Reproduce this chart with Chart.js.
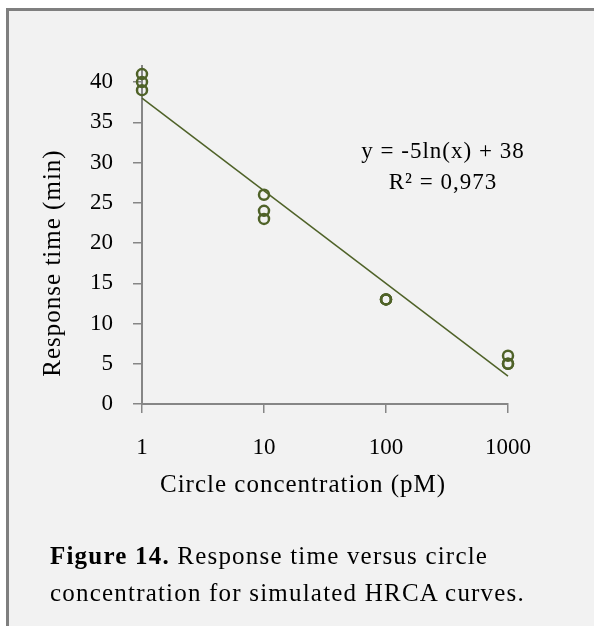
<!DOCTYPE html>
<html>
<head>
<meta charset="utf-8">
<script src="https://cdn.jsdelivr.net/npm/chart.js@4.4.1/dist/chart.umd.min.js"></script>
<style>
    html, body { margin: 0; padding: 0; background: #fff; }
    .figure-box {
        position: absolute; left: 6px; top: 8px; right: 0; bottom: 0;
        background: #f2f2f2;
        border-top: 3px solid #7f7f7f;
        border-left: 3px solid #7f7f7f;
    }
    #response-chart { position: absolute; left: 0; top: 0; }
    .figure-caption {
        position: absolute; left: 50px; top: 537px;
        font: 25px 'Liberation Serif', serif; line-height: 37px;
        letter-spacing: 1.2px; color: #000; white-space: nowrap;
    }
</style>
</head>
<body>
<div class="figure-box"></div>
<canvas id="response-chart" width="594" height="626"></canvas>
<div class="figure-caption"><b>Figure 14.</b> Response time versus circle<br>concentration for simulated HRCA curves.</div>
<script>
// Simulated HRCA runs: circle concentration (pM) vs response time (min)
var concentration = [1, 1, 1, 10, 10, 10, 100, 100, 100, 1000, 1000, 1000];
var responseTime  = [41, 40, 39, 26, 24, 23, 13, 13, 13, 6, 5, 5];

var xTicks = [1, 10, 100, 1000];
var yTicks = [0, 5, 10, 15, 20, 25, 30, 35, 40];

// Logarithmic fit reported on the chart
var trendSlope = -5;
var trendIntercept = 38;
var trendR2 = '0,973';

(function () {
    'use strict';

    var olive = '#4f6228';
    var axisGrey = '#868686';
    var serif = "'Liberation Serif', serif";

    var points = concentration.map(function (c, i) {
        return { x: c, y: responseTime[i] };
    });

    // straight on a log axis, so the two end points are enough
    var trendX = [xTicks[0], xTicks[xTicks.length - 1]];
    var trendPoints = trendX.map(function (c) {
        return { x: c, y: trendIntercept + trendSlope * Math.log(c) };
    });

    var eqText = 'y = ' + trendSlope + 'ln(x) + ' + trendIntercept;
    var r2Text = 'R\u00b2 = ' + trendR2;

    /**
     * Fit equation and axis titles
     */
    var chartText = {
        id: 'chartText',
        afterDraw: function (chart) {
            var c = chart.ctx;
            c.save();
            c.fillStyle = '#000';
            c.textAlign = 'center';
            c.textBaseline = 'middle';
            c.font = '23px ' + serif;
            c.letterSpacing = '1px';
            c.fillText(eqText, 443, 152);
            c.fillText(r2Text, 443, 183);

            c.font = '25px ' + serif;
            c.letterSpacing = '1px';
            c.fillText('Circle concentration (pM)', 303, 485);

            c.translate(53, 263);
            c.rotate(-Math.PI / 2);
            c.fillText('Response time (min)', 0, 0);
            c.restore();
        }
    };

    var tickFont = { family: serif, size: 23 };

    new Chart(document.getElementById('response-chart'), {
        type: 'scatter',
        data: {
            datasets: [{
                label: 'Response time',
                data: points,
                pointStyle: 'circle',
                pointRadius: 5,
                pointHoverRadius: 5,
                pointBorderWidth: 2.5,
                pointBorderColor: olive,
                pointBackgroundColor: 'rgba(0,0,0,0)',
                borderColor: olive,
                backgroundColor: 'rgba(0,0,0,0)',
                clip: false,
                order: 1
            }, {
                type: 'line',
                label: 'Log fit',
                data: trendPoints,
                borderColor: olive,
                borderWidth: 1.5,
                pointRadius: 0,
                fill: false,
                clip: false,
                order: 2
            }]
        },
        options: {
            responsive: false,
            animation: false,
            events: [],
            layout: { padding: { left: 0, top: 66, right: 86, bottom: 162 } },
            plugins: {
                legend: { display: false },
                tooltip: { enabled: false }
            },
            scales: {
                x: {
                    type: 'logarithmic',
                    min: 1,
                    max: 1000,
                    afterBuildTicks: function (scale) {
                        scale.ticks = xTicks.map(function (v) { return { value: v }; });
                    },
                    afterFit: function (scale) { scale.height = 60; },
                    ticks: {
                        color: '#000',
                        font: tickFont,
                        padding: 21,
                        maxRotation: 0,
                        callback: function (value) { return String(value); }
                    },
                    grid: { drawOnChartArea: false, drawTicks: true, tickLength: 9, color: axisGrey, lineWidth: 1.5 },
                    border: { display: true, color: axisGrey, width: 2 }
                },
                y: {
                    min: 0,
                    max: 42,
                    afterBuildTicks: function (scale) {
                        scale.ticks = yTicks.map(function (v) { return { value: v }; });
                    },
                    afterFit: function (scale) { scale.width = 142; },
                    ticks: {
                        color: '#000',
                        font: tickFont,
                        padding: 20
                    },
                    grid: { drawOnChartArea: false, drawTicks: true, tickLength: 9, color: axisGrey, lineWidth: 1.5 },
                    border: { display: true, color: axisGrey, width: 2 }
                }
            }
        },
        plugins: [chartText]
    });
})();
</script>
</body>
</html>
